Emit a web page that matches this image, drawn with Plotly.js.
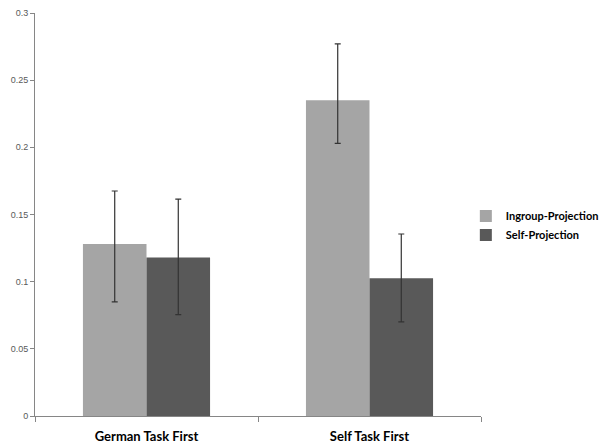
<!DOCTYPE html>
<html>
<head>
<meta charset="utf-8">
<script src="https://cdn.plot.ly/plotly-3.0.1.min.js"></script>
<style>html,body{margin:0;padding:0;background:#fff;}#chart{width:605px;height:444px;}</style>
</head>
<body>
<div id="chart"></div>
<script>
const categories = ["German Task First", "Self Task First"];
const ingroupValues = [0.128, 0.235];
const ingroupErrUp = [0.0395, 0.042];
const ingroupErrDown = [0.043, 0.032];
const selfValues = [0.118, 0.1025];
const selfErrUp = [0.0435, 0.033];
const selfErrDown = [0.0425, 0.0325];
const seriesNames = ["Ingroup-Projection", "Self-Projection"];
const yTickVals = [0, 0.05, 0.1, 0.15, 0.2, 0.25, 0.3];
const yTickText = ["0", "0.05", "0.1", "0.15", "0.2", "0.25", "0.3"];

const errStyle = {color: "#333333", thickness: 1.2, width: 3};

const traces = [
  {
    type: "bar", name: seriesNames[0], x: categories, y: ingroupValues,
    marker: {color: "#A5A5A5"},
    error_y: Object.assign({type: "data", symmetric: false, array: ingroupErrUp, arrayminus: ingroupErrDown}, errStyle)
  },
  {
    type: "bar", name: seriesNames[1], x: categories, y: selfValues,
    marker: {color: "#595959"},
    error_y: Object.assign({type: "data", symmetric: false, array: selfErrUp, arrayminus: selfErrDown}, errStyle)
  }
];

const layout = {
  width: 605, height: 444,
  margin: {l: 35, r: 124, t: 13, b: 28, autoexpand: false},
  paper_bgcolor: "#ffffff", plot_bgcolor: "#ffffff",
  barmode: "group", bargap: 0.43, bargroupgap: 0,
  showlegend: true,
  legend: {x: 0.966, y: 0.473, xanchor: "left", yanchor: "middle",
    bgcolor: "rgba(0,0,0,0)",
    font: {family: "Lato, 'Open Sans', sans-serif", size: 11, color: "#000", weight: "bold"},
    tracegroupgap: 2, itemwidth: 30},
  xaxis: {
    showline: true, linecolor: "#868686", linewidth: 1,
    ticks: "outside", tickson: "boundaries", ticklen: 5, tickcolor: "#868686",
    ticklabelstandoff: 8,
    tickfont: {family: "Lato, 'Open Sans', sans-serif", size: 13, color: "#000", weight: "bold"},
    showgrid: false, zeroline: false
  },
  yaxis: {
    range: [0, 0.3], tickvals: yTickVals, ticktext: yTickText,
    showline: true, linecolor: "#868686", linewidth: 1,
    ticks: "outside", ticklen: 4, tickcolor: "#868686",
    tickfont: {family: "'Liberation Sans', Arial, sans-serif", size: 9, color: "#595959"},
    showgrid: false, zeroline: false
  }
};

Plotly.newPlot("chart", traces, layout, {displayModeBar: false, staticPlot: true});
</script>
</body>
</html>
